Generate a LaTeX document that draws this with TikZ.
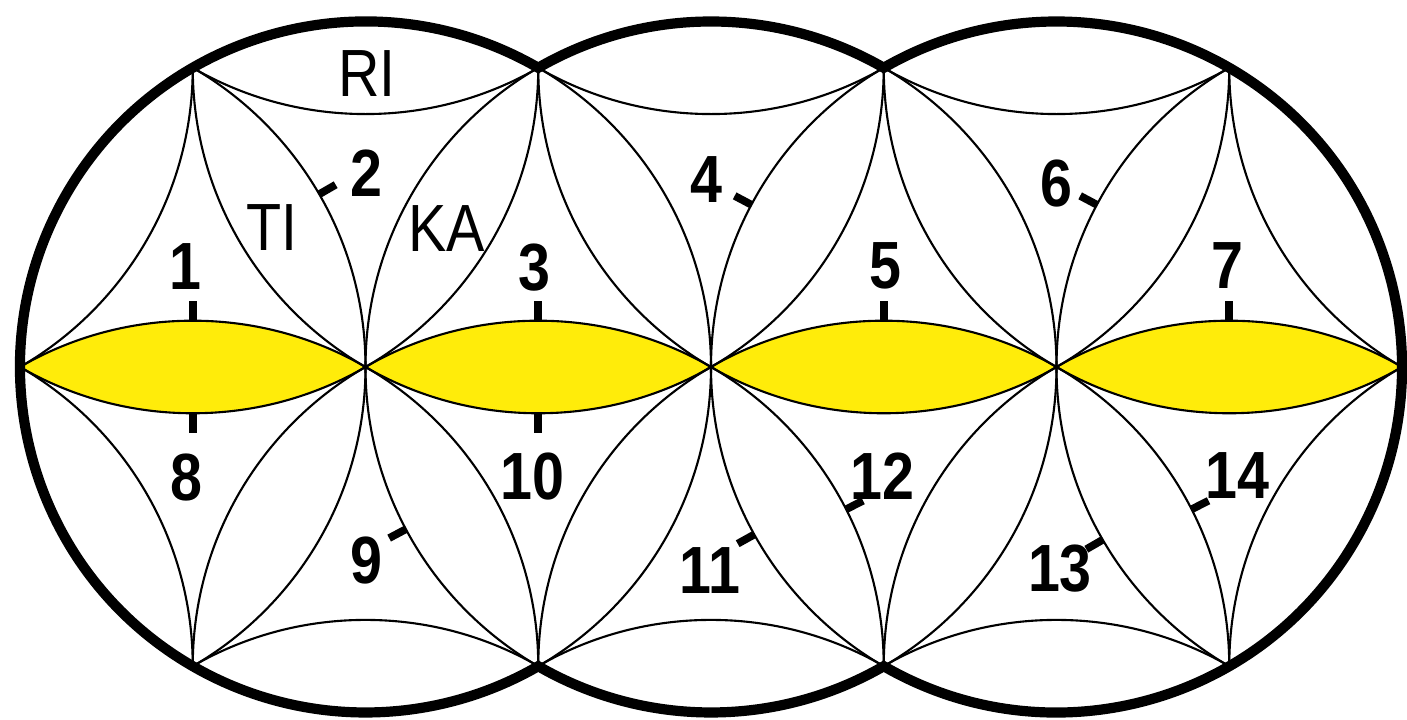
\documentclass[tikz,border=0pt]{standalone}
\usepackage{fontspec}
\setmainfont{Liberation Sans}
\definecolor{jaune}{RGB}{255,236,10}
\newcommand{\etroit}[1]{\scalebox{.86}[1]{#1}}
\tikzset{contour/.style={line width=2.9pt},fin/.style={line width=.6pt},repere/.style={line width=2.2pt},
  chiffre/.style={font=\fontsize{19}{19}\selectfont\bfseries},syllabe/.style={font=\fontsize{19}{19}\selectfont}}
\begin{document}
\begin{tikzpicture}[x=3.455cm,y=3.455cm]
\useasboundingbox (-1.0579,-1.0217) rectangle (3.0145,1.0622);
% Lentilles jaunes entre (c-.5,0) et (c+.5,0), arcs de centres (c,-h) et (c,h).
\foreach \c in {-.5,.5,1.5,2.5}
  \fill[jaune] (\c-.5,0) arc[start angle=120,end angle=60,radius=1] arc[start angle=-60,end angle=-120,radius=1] -- cycle;
\begin{scope}
\clip (0,0) circle[radius=1] (1,0) circle[radius=1] (2,0) circle[radius=1];
\foreach \j in {-2,...,2}\foreach \i in {-3,...,5}\draw[fin] ({\i+\j/2},{\j*sqrt(3)/2}) circle[radius=1];
\end{scope}
\draw[contour] (.5,{sqrt(3)/2}) arc[start angle=60,end angle=300,radius=1] arc[start angle=240,end angle=300,radius=1]
  arc[start angle=240,end angle=480,radius=1] arc[start angle=60,end angle=120,radius=1] -- cycle;
\foreach \c in {-.5,.5,1.5,2.5}\draw[repere] (\c,{1-sqrt(3)/2}) -- ++(0,.056);
\foreach \c in {-.5,.5}\draw[repere] (\c,{sqrt(3)/2-1}) -- ++(0,-.056);
\foreach \x/\y/\a in {-1/0/30,2/0/152,3/0/152,1/0/208,2/0/209,3/0/210,.5/-.866/27,1.5/-.866/27}
  \draw[repere] (\x,\y) ++(\a:1) -- ++(\a:.055);
\foreach \x/\y/\t in {-.52/.29/1,.002/.561/2,.49/.289/3,.988/.544/4,1.504/.292/5,2.0/.53/6,2.496/.295/7,-.518/-.321/8,
  .004/-.559/9,.484/-.318/10,.997/-.588/11,1.497/-.315/12,2.01/-.582/13,2.525/-.313/14}
  \node[chiffre] (n\t) at (\x,\y) {\etroit{\t}};
\node[syllabe] (ri) at (.004,.848) {\etroit{RI}};\node[syllabe] (ti) at (-.27,.403) {\etroit{TI}};
\node[syllabe] (ka) at (.235,.4) {\etroit{KA}};
\end{tikzpicture}
\end{document}
